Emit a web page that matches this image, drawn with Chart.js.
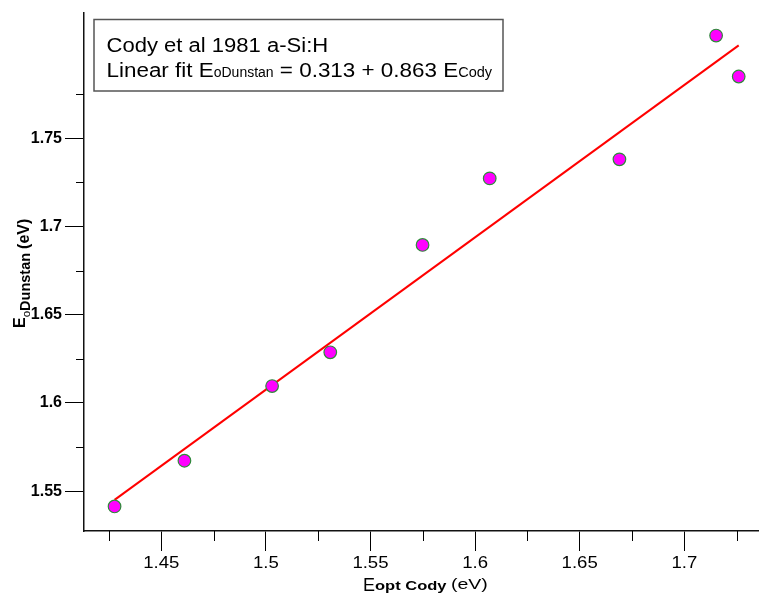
<!DOCTYPE html>
<html>
<head>
<meta charset="utf-8">
<script src="https://cdn.jsdelivr.net/npm/chart.js@4/dist/chart.umd.min.js"></script>
<style>
  html, body { margin: 0; padding: 0; background: #fff; }
  canvas { display: block; }
</style>
</head>
<body>
<canvas id="fitChart" width="759" height="598"></canvas>
<script>
// Cody et al 1981 a-Si:H: Dunstan gap vs Cody optical gap
const eCody = [1.4277, 1.4611, 1.5030, 1.5308, 1.5749, 1.6070, 1.6690, 1.7152, 1.7260];
const eDunstan = [1.5414, 1.5673, 1.6096, 1.6287, 1.6895, 1.7272, 1.7380, 1.8081, 1.7849];

// linear fit coefficients, as printed in the legend box
const fitIntercept = 0.313;
const fitSlope = 0.863;
const fitRange = [1.4277, 1.726];

const xMajorTicks = [1.45, 1.5, 1.55, 1.6, 1.65, 1.7];
const xMinorTicks = [1.425, 1.475, 1.525, 1.575, 1.625, 1.675, 1.725];
const yMajorTicks = [1.55, 1.6, 1.65, 1.7, 1.75];
const yMinorTicks = [1.575, 1.625, 1.675, 1.725, 1.775];

const FONT = "'Liberation Sans', Arial, sans-serif";

// draw a row of text pieces with their own font, baseline shift and x-stretch
function drawRuns(ctx, runs, x, y) {
    runs.forEach(run => {
        const hs = run.hs || 1;
        ctx.save();
        ctx.font = run.font;
        ctx.translate(x, y + (run.dy || 0));
        ctx.scale(hs, 1);
        ctx.fillText(run.text, 0, 0);
        x += ctx.measureText(run.text).width * hs;
        ctx.restore();
    });
    return x;
}

const decorations = {
    id: 'decorations',
    afterDraw(chart) {
        const ctx = chart.ctx;
        const xs = chart.scales.x;
        const ys = chart.scales.y;
        const area = chart.chartArea;

        ctx.save();
        ctx.strokeStyle = '#000';
        ctx.lineWidth = 1;

        // minor ticks
        xMinorTicks.forEach(v => {
            const px = Math.round(xs.getPixelForValue(v)) + 0.5;
            ctx.beginPath();
            ctx.moveTo(px, area.bottom);
            ctx.lineTo(px, area.bottom + 10);
            ctx.stroke();
        });
        yMinorTicks.forEach(v => {
            const py = Math.round(ys.getPixelForValue(v)) + 0.5;
            ctx.beginPath();
            ctx.moveTo(area.left, py);
            ctx.lineTo(area.left - 8, py);
            ctx.stroke();
        });

        // x tick labels (wide spaced)
        ctx.fillStyle = '#000';
        ctx.textBaseline = 'alphabetic';
        xMajorTicks.forEach(v => {
            const label = String(v);
            ctx.font = '16px ' + FONT;
            const hs = 1.16;
            const w = ctx.measureText(label).width * hs;
            drawRuns(ctx, [{ text: label, font: '16px ' + FONT, hs: hs }], xs.getPixelForValue(v) - w / 2, 568);
        });

        // x axis title
        drawRuns(ctx, [
            { text: 'E', font: '18px ' + FONT },
            { text: 'opt Cody', font: 'bold 13px ' + FONT, hs: 1.27, dy: -1 },
            { text: ' ', font: '16px ' + FONT },
            { text: '(eV)', font: '15.5px ' + FONT, hs: 1.26, dy: -2 }
        ], 363, 591);

        // y axis title, rotated
        ctx.save();
        ctx.translate(25, 328);
        ctx.rotate(-Math.PI / 2);
        drawRuns(ctx, [
            { text: 'E', font: 'bold 16px ' + FONT },
            { text: 'o', font: '11.5px ' + FONT, dy: 5 },
            { text: 'Dunstan', font: 'bold 14.5px ' + FONT, dy: 5 },
            { text: ' ', font: 'bold 14.5px ' + FONT },
            { text: '(eV)', font: 'bold 16px ' + FONT, dy: 4 }
        ], 0, 0);
        ctx.restore();

        // legend box
        ctx.fillStyle = '#fff';
        ctx.fillRect(94, 19.5, 409, 71.5);
        ctx.strokeStyle = '#555';
        ctx.lineWidth = 1.5;
        ctx.strokeRect(94, 19.5, 409, 71.5);
        ctx.fillStyle = '#000';
        drawRuns(ctx, [{ text: 'Cody et al 1981 a-Si:H', font: '19.5px ' + FONT, hs: 1.13 }], 106.5, 51.5);
        drawRuns(ctx, [
            { text: 'Linear fit E', font: '19.5px ' + FONT, hs: 1.15 },
            { text: 'oDunstan', font: '14px ' + FONT },
            { text: ' = ' + fitIntercept.toFixed(3) + ' + ' + fitSlope.toFixed(3) + ' E', font: '19.5px ' + FONT, hs: 1.15 },
            { text: 'Cody', font: '14.5px ' + FONT }
        ], 106.5, 76.5);

        ctx.restore();
    }
};

const fitLine = fitRange.map(x => ({ x: x, y: fitIntercept + fitSlope * x }));
const points = eCody.map((x, i) => ({ x: x, y: eDunstan[i] }));

new Chart(document.getElementById('fitChart'), {
    type: 'scatter',
    data: {
        datasets: [
            {
                type: 'line',
                data: fitLine,
                borderColor: '#ff0000',
                borderWidth: 2,
                pointRadius: 0,
                fill: false,
                order: 2
            },
            {
                data: points,
                backgroundColor: '#ff00ff',
                borderColor: '#2f8a3a',
                borderWidth: 1.2,
                pointRadius: 6.3,
                order: 1
            }
        ]
    },
    options: {
        responsive: false,
        animation: false,
        devicePixelRatio: 1,
        layout: { autoPadding: false, padding: { top: 9, left: 0, right: 0, bottom: 0 } },
        plugins: { legend: { display: false }, tooltip: { enabled: false } },
        scales: {
            x: {
                type: 'linear',
                min: 1.4131,
                max: 1.7357,
                afterBuildTicks: s => { s.ticks = xMajorTicks.map(v => ({ value: v })); },
                afterFit: s => { s.height = 67; },
                ticks: { display: false },
                grid: { drawOnChartArea: false, drawTicks: true, tickLength: 20, color: '#000', lineWidth: 1 },
                border: { display: true, color: '#111', width: 1.5 }
            },
            y: {
                type: 'linear',
                min: 1.5275,
                max: 1.8211,
                afterBuildTicks: s => { s.ticks = yMajorTicks.map(v => ({ value: v })); },
                afterFit: s => { s.width = 84; },
                ticks: {
                    color: '#000',
                    padding: 3,
                    font: { family: FONT, size: 16, weight: 'bold' },
                    callback: v => String(+v.toFixed(3))
                },
                grid: { drawOnChartArea: false, drawTicks: true, tickLength: 19, color: '#000', lineWidth: 1 },
                border: { display: true, color: '#111', width: 1.5 }
            }
        }
    },
    plugins: [decorations]
});
</script>
</body>
</html>
